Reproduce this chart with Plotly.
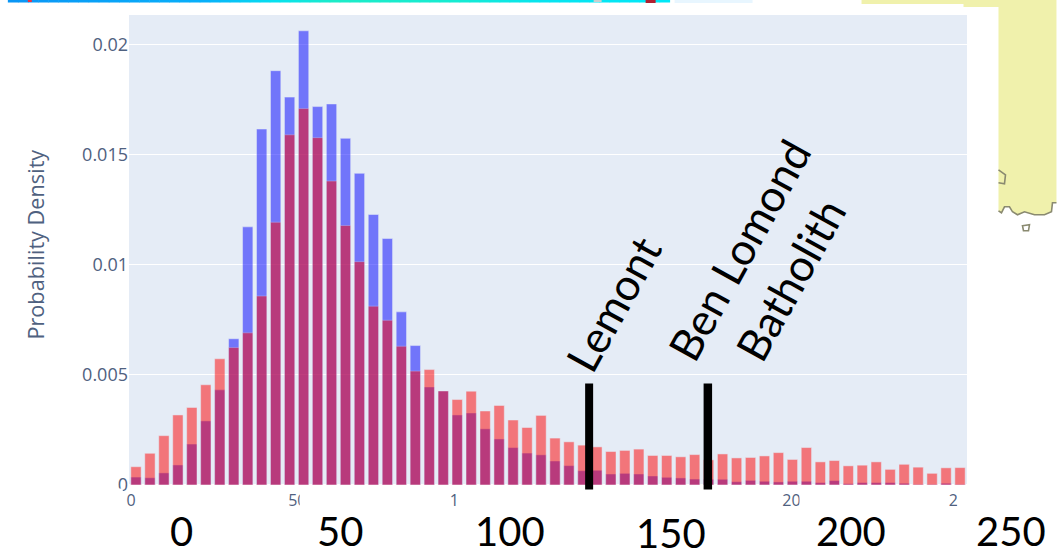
import plotly.graph_objects as go

bin_width = 4.2
blue_values = [.00036,.00033,.00055,.00091,.00186,.00291,.00432,.00664,.01172,.01616,
               .01881,.01761,.02062,.01718,.0173,.01574,.01415,.01228,.01119,.00786,
               .00633,.00445,.00427,.00318,.00327,.00255,.00209,.0017,.00145,.00137,
               .00109,.00088,.00065,.00067,.0005,.00053,.0005,.00041,.00035,.00032,
               .00027,.00026,.00026,.00015,.00021,.00017,.00014,.00017,.00017,.00011,
               .0002,.00006,.00011,.00011,.00011,.00008,.00003,.00003,.00008,.00003]
red_values = [.00083,.00144,.00224,.00318,.00352,.00455,.00573,.00624,.00691,.00858,
              .01193,.0159,.01709,.01577,.0138,.01178,.01014,.00812,.00748,.0063,
              .00517,.00524,.00427,.00388,.00426,.00336,.00361,.00295,.00261,.00316,
              .00213,.00196,.00181,.00173,.00152,.00157,.00163,.00134,.00134,.00128,
              .00138,.00114,.00141,.00123,.00125,.00132,.00147,.00116,.0017,.00105,
              .00111,.00087,.0009,.00105,.00071,.00094,.00081,.00053,.00078,.00079]
bin_centers = [bin_width * (i + 0.5) for i in range(len(blue_values))]

y_title = "Probability Density"
overlay_numbers = ["0", "50", "100", "150", "200", "250"]
overlay_number_pos = [(182, 532), (340, 532), (510, 532), (671, 534), (851, 532), (1012, 532)]
rock_labels = ["Lemont", "Ben Lomond", "Batholith"]
rock_label_pos = [(613, 304), (739, 250), (790, 280)]

L, R, T, B = 129.2, 967.5, 15.0, 485.5
def px(x): return (x - L) / (R - L)
def py(y): return (B - y) / (B - T)

def rect(x0, y0, x1, y1, color):
    return dict(type="rect", xref="paper", yref="paper", x0=px(x0), x1=px(x1),
                y0=py(y0), y1=py(y1), fillcolor=color, line_width=0, layer="above")

def path(points, fill=None, line=None, close=False):
    d = "M " + " L ".join(f"{px(x):.5f},{py(y):.5f}" for x, y in points) + (" Z" if close else "")
    s = dict(type="path", xref="paper", yref="paper", path=d, layer="above")
    if fill: s["fillcolor"] = fill
    s["line"] = dict(color=line, width=1.6) if line else dict(width=0)
    return s

fig = go.Figure()
fig.add_bar(x=bin_centers, y=blue_values, marker_color="rgb(0,0,255)", opacity=0.5, name="a")
fig.add_bar(x=bin_centers, y=red_values, marker_color="rgb(255,0,0)", opacity=0.5, name="b")

shapes = []
for a, b in [(0, 123), (138, 288), (300, 450), (457, 782), (800, 948), (958, 1057)]:
    shapes.append(rect(a, 489, b, 552, "white"))
yellow = "#f0f1ac"
shapes.append(path([(862, 0), (1057, 0), (1057, 203), (1053, 203), (1052, 212), (1045, 215),
                    (1035, 215), (1025, 212), (1018, 215), (1013, 212), (1010, 207), (1005, 207),
                    (1002, 213), (999, 211), (999, 7), (964, 7), (964, 4), (862, 4)], fill=yellow, close=True))
shapes.append(path([(999, 211), (1002, 213), (1005, 207), (1010, 207), (1013, 212), (1018, 215),
                    (1025, 212), (1035, 215), (1045, 215), (1052, 212), (1053, 203), (1057, 203)], line="#8a8a70"))
shapes.append(path([(999, 170), (1006, 175), (1005, 184), (999, 183)], line="#8a8a70"))
shapes.append(path([(1023, 226), (1030, 225), (1029, 231), (1024, 231)], line="#8a8a70", close=True))
stops = [(8, (10, 150, 245)), (200, (8, 176, 250)), (270, (6, 225, 240)), (330, (28, 236, 200)),
         (450, (22, 236, 210)), (540, (6, 228, 240)), (670, (0, 232, 248))]
for (a, ca), (b, cb) in zip(stops, stops[1:]):
    n = max(1, (b - a) // 10)
    for k in range(n):
        t = k / n
        c = tuple(round(ca[i] + (cb[i] - ca[i]) * t) for i in range(3))
        shapes.append(rect(a + (b - a) * k / n, 0, a + (b - a) * (k + 1) / n + 0.5, 2.5, f"rgb{c}"))
shapes.append(rect(675, 0, 753, 3, "#e8f6ff"))
shapes.append(rect(28, 0, 32, 2, "#f03040"))
shapes.append(rect(594, 0, 602, 2, "#c8d0d0"))
shapes.append(rect(646, 0, 656, 3, "#b02030"))
shapes.append(rect(585.5, 384, 593.5, 490, "black"))
shapes.append(rect(704, 384, 712.5, 490, "black"))

label_color = "#4f6180"
annotations = [dict(text=y_title, xref="paper", yref="paper", x=px(36), y=py(245), showarrow=False,
                    xanchor="center", yanchor="middle", textangle=-90,
                    font=dict(family="Open Sans", size=21.7, color=label_color))]
for t, (x, y) in zip(overlay_numbers, overlay_number_pos):
    annotations.append(dict(text=t, xref="paper", yref="paper", x=px(x), y=py(y), showarrow=False,
                            xanchor="center", yanchor="middle",
                            font=dict(family="Lato", size=40, color="black")))
for t, (x, y) in zip(rock_labels, rock_label_pos):
    annotations.append(dict(text=t, xref="paper", yref="paper", x=px(x), y=py(y), showarrow=False,
                            xanchor="center", yanchor="middle", textangle=-61,
                            font=dict(family="Lato", size=44, color="black")))

fig.update_layout(
    template="plotly", width=1057, height=552, autosize=False, showlegend=False,
    barmode="overlay", bargap=0.26, paper_bgcolor="white",
    margin=dict(l=L, r=1057 - R, t=T, b=552 - B, pad=0),
    font=dict(family="Open Sans", color=label_color),
    xaxis=dict(range=[0, 252], showgrid=False, zeroline=False, dtick=50, tick0=0,
               tickfont=dict(size=16, color=label_color), ticks="",
               ticklabelstandoff=4, ticklabelshift=2, automargin=False),
    yaxis=dict(range=[0, (B - T) / 22050], dtick=0.005, tick0=0,
               tickfont=dict(size=18, color=label_color), automargin=False),
    shapes=shapes, annotations=annotations,
)
fig.write_html("out.html", post_script="document.body.style.margin='0';document.body.style.overflow='hidden';",
               config=dict(displayModeBar=False))
